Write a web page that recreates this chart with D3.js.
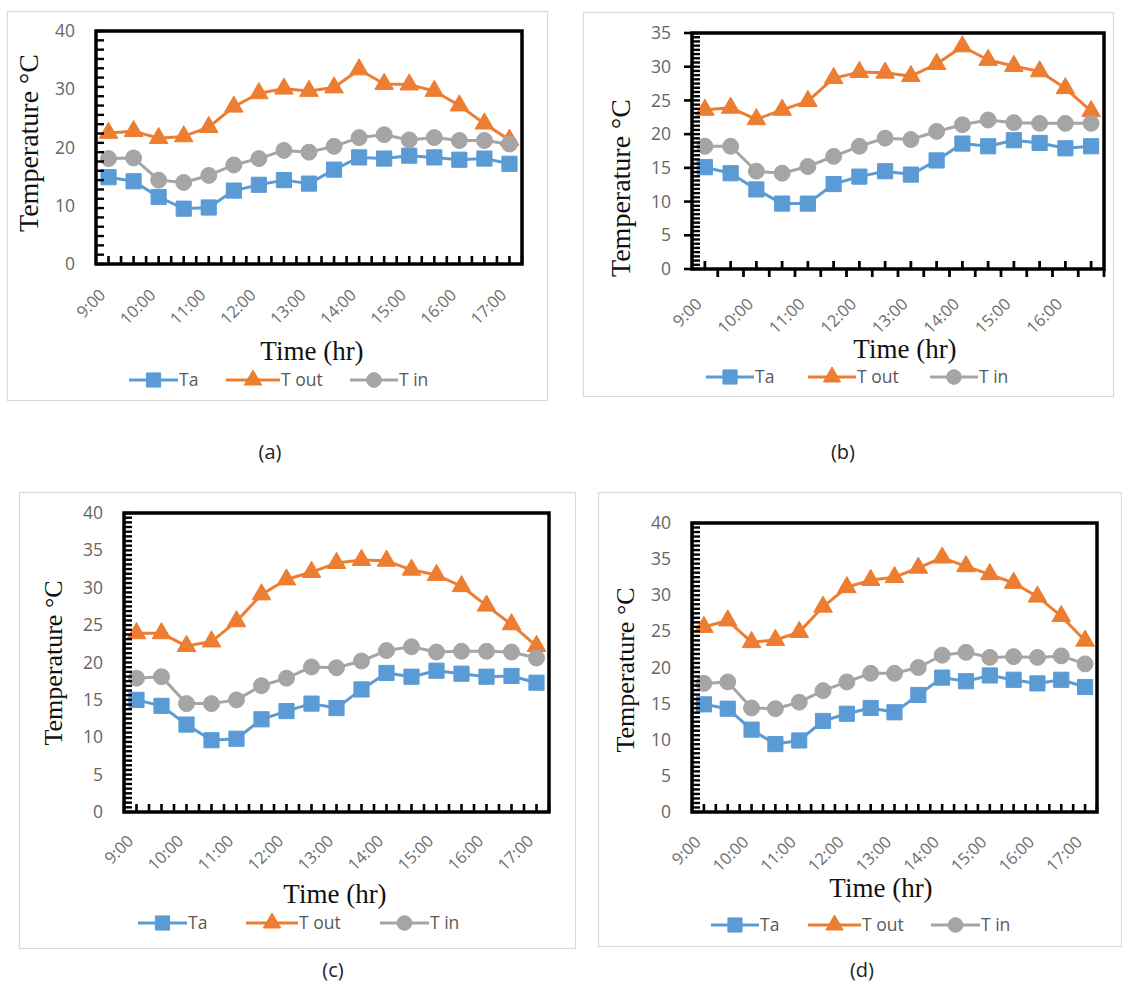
<!DOCTYPE html>
<html>
<head>
<meta charset="utf-8">
<script src="https://cdn.jsdelivr.net/npm/d3@7/dist/d3.min.js"></script>
<style>
  body { margin: 0; background: #fff; }
  svg { display: block; }
</style>
</head>
<body>
<svg id="fig" width="1122" height="987"></svg>
<script>
// Half-hourly readings, 9:00 to 17:00
const categories = ["9:00","9:30","10:00","10:30","11:00","11:30","12:00","12:30","13:00",
                    "13:30","14:00","14:30","15:00","15:30","16:00","16:30","17:00"];
const categoriesB = categories.slice(0, 16);
const hourLabels = ["9:00","10:00","11:00","12:00","13:00","14:00","15:00","16:00","17:00"];
const seriesNames = ["Ta", "T out", "T in"];
const captions = ["(a)", "(b)", "(c)", "(d)"];

// Panel (a)
const taA   = [14.9,14.2,11.5,9.5,9.7,12.6,13.6,14.4,13.8,16.2,18.3,18.1,18.6,18.3,17.9,18.1,17.2];
const toutA = [22.5,22.8,21.6,21.9,23.5,27.0,29.3,30.1,29.7,30.3,33.4,30.9,30.8,29.7,27.2,24.1,21.3];
const tinA  = [18.1,18.2,14.4,14.0,15.2,17.0,18.1,19.5,19.2,20.2,21.7,22.2,21.3,21.7,21.2,21.2,20.6];
// Panel (b)
const taB   = [15.1,14.2,11.8,9.7,9.7,12.6,13.7,14.5,14.0,16.1,18.6,18.2,19.1,18.7,17.9,18.2];
const toutB = [23.6,23.9,22.2,23.6,24.9,28.3,29.2,29.1,28.6,30.4,33.0,31.0,30.1,29.3,26.8,23.4];
const tinB  = [18.2,18.2,14.5,14.2,15.2,16.7,18.2,19.4,19.2,20.4,21.4,22.1,21.7,21.6,21.6,21.6];
// Panel (c)
const taC   = [15.0,14.2,11.7,9.6,9.8,12.4,13.5,14.5,13.9,16.4,18.6,18.1,18.9,18.5,18.1,18.2,17.3];
const toutC = [23.9,23.9,22.2,22.8,25.5,29.1,31.1,32.1,33.3,33.7,33.6,32.4,31.7,30.2,27.6,25.1,22.2];
const tinC  = [17.9,18.1,14.5,14.5,15.0,16.9,17.9,19.4,19.3,20.2,21.6,22.1,21.4,21.5,21.5,21.4,20.6];
// Panel (d)
const taD   = [14.9,14.3,11.4,9.4,9.9,12.6,13.6,14.4,13.8,16.2,18.6,18.1,18.9,18.3,17.8,18.3,17.3];
const toutD = [25.6,26.5,23.5,23.8,24.9,28.4,31.1,32.1,32.5,33.8,35.2,34.0,32.9,31.7,29.8,27.1,23.7];
const tinD  = [17.8,18.0,14.4,14.3,15.2,16.8,18.0,19.2,19.2,20.0,21.7,22.1,21.4,21.5,21.4,21.6,20.5];

const yTicksA = [0, 10, 20, 30, 40];
const yTicksB = [0, 5, 10, 15, 20, 25, 30, 35];
const yTicksC = [0, 5, 10, 15, 20, 25, 30, 35, 40];
const yTicksD = [0, 5, 10, 15, 20, 25, 30, 35, 40];

const colors = ["#5B9BD5", "#ED7D31", "#A5A5A5"];
const shapes = [d3.symbolSquare, d3.symbolTriangle, d3.symbolCircle];
const symbolSizes = [230, 150, 200];
const legendSymbolSizes = [200, 130, 170];

const panels = [
  { cats: categories,  series: [taA, toutA, tinA], yTicks: yTicksA, caption: captions[0],
    box: [7, 11, 547, 400], plot: [96, 31, 522, 264], minor: 1.6, outTicks: false, drop: 32,
    yTitle: [38, 143, 28], xTitle: [312, 360], legendY: 380,
    legendX: [[129, 178], [226, 280], [350, 398]], cap: [270, 459] },
  { cats: categoriesB, series: [taB, toutB, tinB], yTicks: yTicksB, caption: captions[1],
    box: [583, 12, 1113, 396], plot: [692, 33, 1104, 269], minor: 0.625, outTicks: true, drop: 36,
    yTitle: [630, 188, 28], xTitle: [905, 358], legendY: 377,
    legendX: [[706, 754], [808, 856], [930, 978]], cap: [843, 459] },
  { cats: categories,  series: [taC, toutC, tinC], yTicks: yTicksC, caption: captions[2],
    box: [19, 492, 575, 948], plot: [124, 513, 549, 812], minor: 0.625, outTicks: false, drop: 30,
    yTitle: [62, 663, 26], xTitle: [335, 903], legendY: 923,
    legendX: [[138, 187], [246, 298], [380, 429]], cap: [333, 977] },
  { cats: categories,  series: [taD, toutD, tinD], yTicks: yTicksD, caption: captions[3],
    box: [598, 492, 1121, 946], plot: [692, 523, 1097, 812], minor: 0.625, outTicks: false, drop: 31,
    yTitle: [634, 670, 26], xTitle: [881, 897], legendY: 925,
    legendX: [[711, 759], [808, 861], [931, 980]], cap: [862, 977] }
];

const svg = d3.select("#fig");
const sans = "'Open Sans', 'Noto Sans', sans-serif";
const serif = "'Liberation Serif', 'DejaVu Serif', serif";

// short black tick marks: horizontal ones on the value axis, vertical ones on the time axis
function hTicks(g, vals, y, x0, x1, w) {
  g.append("g").selectAll("line").data(vals).join("line")
    .attr("x1", x0).attr("x2", x1)
    .attr("y1", d => y(d)).attr("y2", d => y(d))
    .attr("stroke", "#000").attr("stroke-width", w);
}
function vTicks(g, vals, x, y0, y1, w) {
  g.append("g").selectAll("line").data(vals).join("line")
    .attr("x1", d => x(d)).attr("x2", d => x(d))
    .attr("y1", y0).attr("y2", y1)
    .attr("stroke", "#000").attr("stroke-width", w);
}

panels.forEach(p => {
  const [L, T, R, B] = p.plot;
  const g = svg.append("g");

  // chart area outline
  g.append("rect")
    .attr("x", p.box[0] + 0.5).attr("y", p.box[1] + 0.5)
    .attr("width", p.box[2] - p.box[0]).attr("height", p.box[3] - p.box[1])
    .attr("fill", "#fff").attr("stroke", "#d9d9d9").attr("stroke-width", 1.2);

  const yMax = p.yTicks[p.yTicks.length - 1];
  const y = d3.scaleLinear().domain([0, yMax]).range([B, T]);
  const x = d3.scaleBand().domain(p.cats).range([L, R]);
  const cx = c => x(c) + x.bandwidth() / 2;
  const xLin = d3.scaleLinear().domain([0, p.cats.length]).range([L, R]);

  // y tick labels
  const yAxis = g.append("g").attr("transform", `translate(${L},0)`)
    .call(d3.axisLeft(y).tickValues(p.yTicks).tickSize(0).tickPadding(21).tickFormat(d3.format("d")));
  yAxis.select(".domain").remove();
  yAxis.selectAll("text").attr("font-family", sans).attr("font-size", 17.5).attr("fill", "#666");

  // series lines and markers
  p.series.forEach((vals, i) => {
    const line = d3.line().x((d, k) => cx(p.cats[k])).y(d => y(d));
    g.append("path").datum(vals)
      .attr("d", line).attr("fill", "none")
      .attr("stroke", colors[i]).attr("stroke-width", 3).attr("stroke-linejoin", "round");
    g.append("g").selectAll("path")
      .data(vals)
      .join("path")
      .attr("transform", (d, k) => `translate(${cx(p.cats[k])},${y(d)})`)
      .attr("d", d3.symbol(shapes[i], symbolSizes[i]))
      .attr("fill", colors[i]).attr("stroke", colors[i]).attr("stroke-width", 1);
  });

  // plot frame
  g.append("rect")
    .attr("x", L).attr("y", T).attr("width", R - L).attr("height", B - T)
    .attr("fill", "none").attr("stroke", "#000").attr("stroke-width", 3.5);

  // minor ticks on the value axis, pointing into the plot
  hTicks(g, d3.range(0, yMax + 1e-6, p.minor), y, L, L + 8, 2.4);
  if (p.outTicks) hTicks(g, p.yTicks, y, L - 8, L, 2.6);

  // tick marks on the time axis
  if (p.outTicks) {
    vTicks(g, d3.range(0.5, p.cats.length, 1), xLin, B - 8, B, 2.8);
    vTicks(g, d3.range(1, p.cats.length + 1, 1), xLin, B, B + 8, 2.8);
  } else {
    vTicks(g, d3.range(0.5, p.cats.length + 0.01, 0.5), xLin, B - 8, B, 2.6);
  }

  // rotated hour labels
  g.append("g").selectAll("text")
    .data(p.cats.filter(c => hourLabels.includes(c)))
    .join("text")
    .attr("transform", c => `translate(${cx(c) - 2},${B + p.drop}) rotate(-45)`)
    .attr("text-anchor", "end")
    .attr("font-family", sans).attr("font-size", 16.5).attr("fill", "#6e6e6e")
    .text(c => c);

  // axis titles
  g.append("text")
    .attr("transform", `translate(${p.yTitle[0]},${p.yTitle[1]}) rotate(-90)`)
    .attr("text-anchor", "middle")
    .attr("font-family", serif).attr("font-size", p.yTitle[2]).attr("fill", "#111")
    .text("Temperature \u00B0C");
  g.append("text")
    .attr("x", p.xTitle[0]).attr("y", p.xTitle[1])
    .attr("text-anchor", "middle")
    .attr("font-family", serif).attr("font-size", 27).attr("fill", "#111")
    .text("Time (hr)");

  // legend
  seriesNames.forEach((name, i) => {
    const [x0, x1] = p.legendX[i];
    const ly = p.legendY;
    g.append("line").attr("x1", x0).attr("x2", x1).attr("y1", ly).attr("y2", ly)
      .attr("stroke", colors[i]).attr("stroke-width", 3);
    g.append("path")
      .attr("transform", `translate(${(x0 + x1) / 2},${ly})`)
      .attr("d", d3.symbol(shapes[i], legendSymbolSizes[i]))
      .attr("fill", colors[i]).attr("stroke", colors[i]).attr("stroke-width", 1);
    g.append("text").attr("x", x1 + 1).attr("y", ly).attr("dy", "0.36em")
      .attr("font-family", sans).attr("font-size", 17.5).attr("fill", "#595959")
      .text(name);
  });

  // panel caption
  svg.append("text")
    .attr("x", p.cap[0]).attr("y", p.cap[1])
    .attr("text-anchor", "middle")
    .attr("font-family", sans).attr("font-size", 20).attr("fill", "#222")
    .text(p.caption);
});
</script>
</body>
</html>
